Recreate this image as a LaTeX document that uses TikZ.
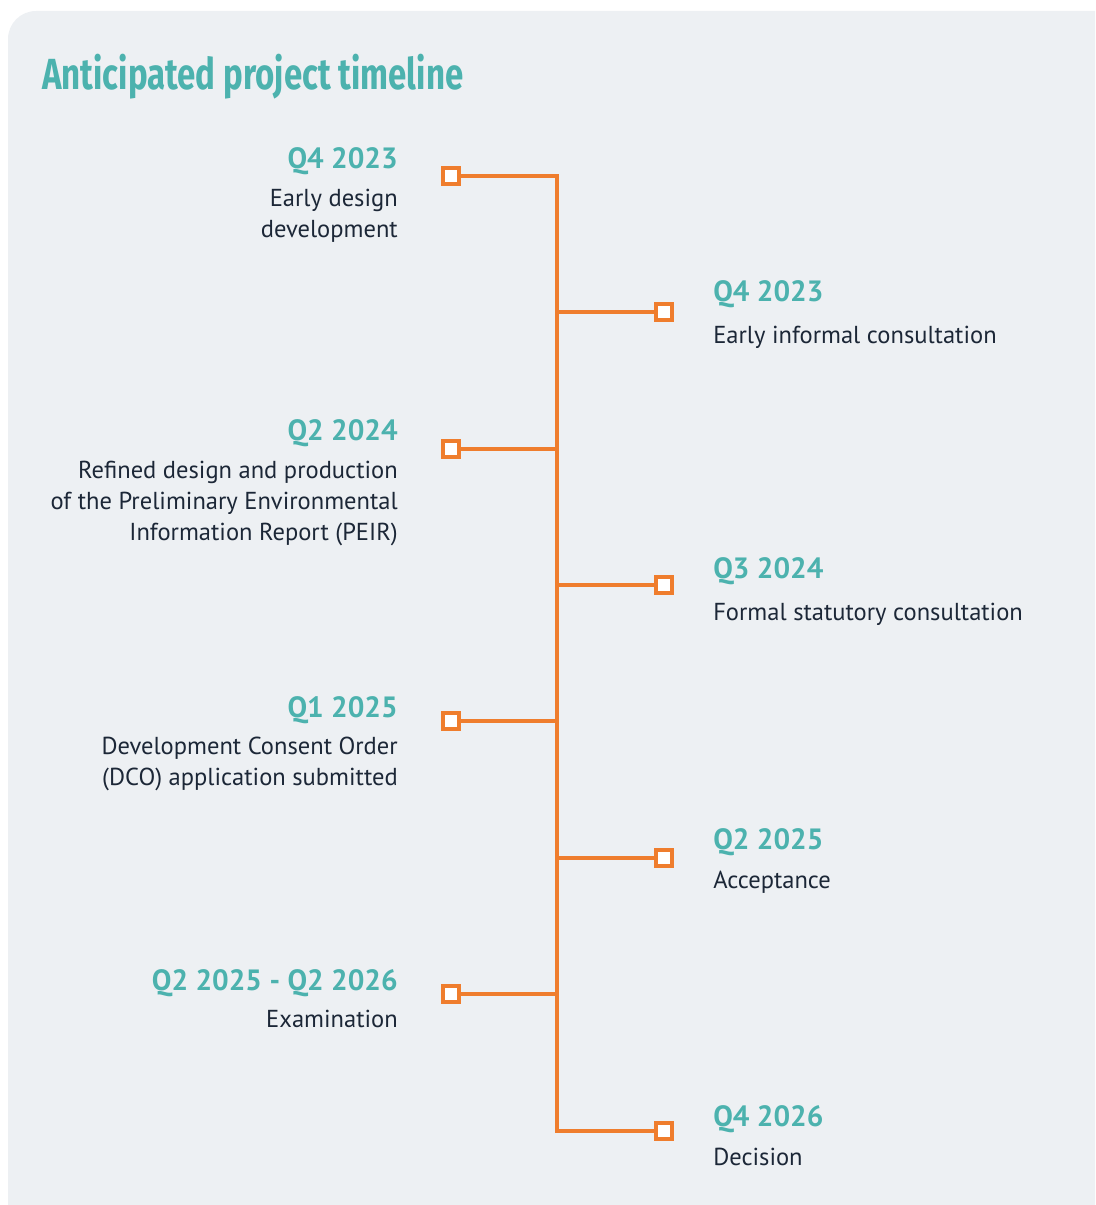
\documentclass[tikz,border=0pt]{standalone}
\usepackage{fontspec}
\setmainfont{PT Sans}
\newfontfamily\titlefamily{Fira Sans}
\usepackage{graphicx}

\definecolor{panelbg}{HTML}{EDF0F3}
\definecolor{teal}{HTML}{4CB2AE}
\definecolor{accent}{HTML}{EF7D2D}
\definecolor{ink}{HTML}{1C2737}

% multi-line description, baseline at its first line
\newcommand\leftlines[1]{\begin{tabular}[t]{@{}r@{}}#1\end{tabular}}

\tikzset{
  milestone/.style={rectangle, draw=accent, fill=white, line width=2.6pt,
    minimum size=12pt, inner sep=0pt},
  branch/.style={draw=accent, line width=2.3pt, line join=miter},
  datelabel/.style={font=\fontsize{22}{26}\selectfont\bfseries, text=teal, inner sep=0pt},
  desclabel/.style={font=\fontsize{18.4}{23.25}\selectfont, text=ink, inner sep=0pt},
}

\begin{document}
\begin{tikzpicture}[x=0.75pt, y=-0.75pt]
  \useasboundingbox (0,0) rectangle (1095,1205);
  \clip (0,0) rectangle (1095,1205);

  % background panel
  \fill[panelbg, rounded corners=21pt] (8,11) rectangle (1125,1235);

  % heading
  \node[anchor=base west, inner sep=0pt, text=teal] (title) at (42,90)
    {\resizebox{315.75pt}{26.5pt}{\titlefamily\bfseries Anticipated project timeline}};

  % junction points on the spine
  \coordinate (j1) at (557,176);
  \coordinate (j2) at (557,312);
  \coordinate (j3) at (557,449);
  \coordinate (j4) at (557,585);
  \coordinate (j5) at (557,721);
  \coordinate (j6) at (557,858);
  \coordinate (j7) at (557,994);
  \coordinate (j8) at (557,1131);

  % milestone markers
  \node[milestone] (m1) at (451,176) {};
  \node[milestone] (m2) at (664,312) {};
  \node[milestone] (m3) at (451,449) {};
  \node[milestone] (m4) at (664,585) {};
  \node[milestone] (m5) at (451,721) {};
  \node[milestone] (m6) at (664,858) {};
  \node[milestone] (m7) at (451,994) {};
  \node[milestone] (m8) at (664,1131) {};

  % spine and branches
  \path[branch] (m1.east) -- (j1) -- (j8) -- (m8.west);
  \path[branch] (j2) -- (m2.west);
  \path[branch] (j3) -- (m3.east);
  \path[branch] (j4) -- (m4.west);
  \path[branch] (j5) -- (m5.east);
  \path[branch] (j6) -- (m6.west);
  \path[branch] (j7) -- (m7.east);

  % left-hand milestones
  \node[datelabel, anchor=base east] (d1) at (398,169) {Q4 2023};
  \node[desclabel, anchor=base east] (t1) at (398,207)
    {\leftlines{Early design\\development}};

  \node[datelabel, anchor=base east] (d3) at (398,440) {Q2 2024};
  \node[desclabel, anchor=base east] (t3) at (398,478)
    {\leftlines{Refined design and production\\of the Preliminary Environmental\\Information Report (PEIR)}};

  \node[datelabel, anchor=base east] (d5) at (398,717) {Q1 2025};
  \node[desclabel, anchor=base east] (t5) at (398,754)
    {\leftlines{Development Consent Order\\(DCO) application submitted}};

  \node[datelabel, anchor=base east] (d7) at (398,990) {Q2 2025 - Q2 2026};
  \node[desclabel, anchor=base east] (t7) at (398,1027) {Examination};

  % right-hand milestones
  \node[datelabel, anchor=base west] (d2) at (713,301) {Q4 2023};
  \node[desclabel, anchor=base west] (t2) at (713,343) {Early informal consultation};

  \node[datelabel, anchor=base west] (d4) at (713,578) {Q3 2024};
  \node[desclabel, anchor=base west] (t4) at (713,620) {Formal statutory consultation};

  \node[datelabel, anchor=base west] (d6) at (713,849) {Q2 2025};
  \node[desclabel, anchor=base west] (t6) at (713,888) {Acceptance};

  \node[datelabel, anchor=base west] (d8) at (713,1126) {Q4 2026};
  \node[desclabel, anchor=base west] (t8) at (713,1165) {Decision};
\end{tikzpicture}
\end{document}
